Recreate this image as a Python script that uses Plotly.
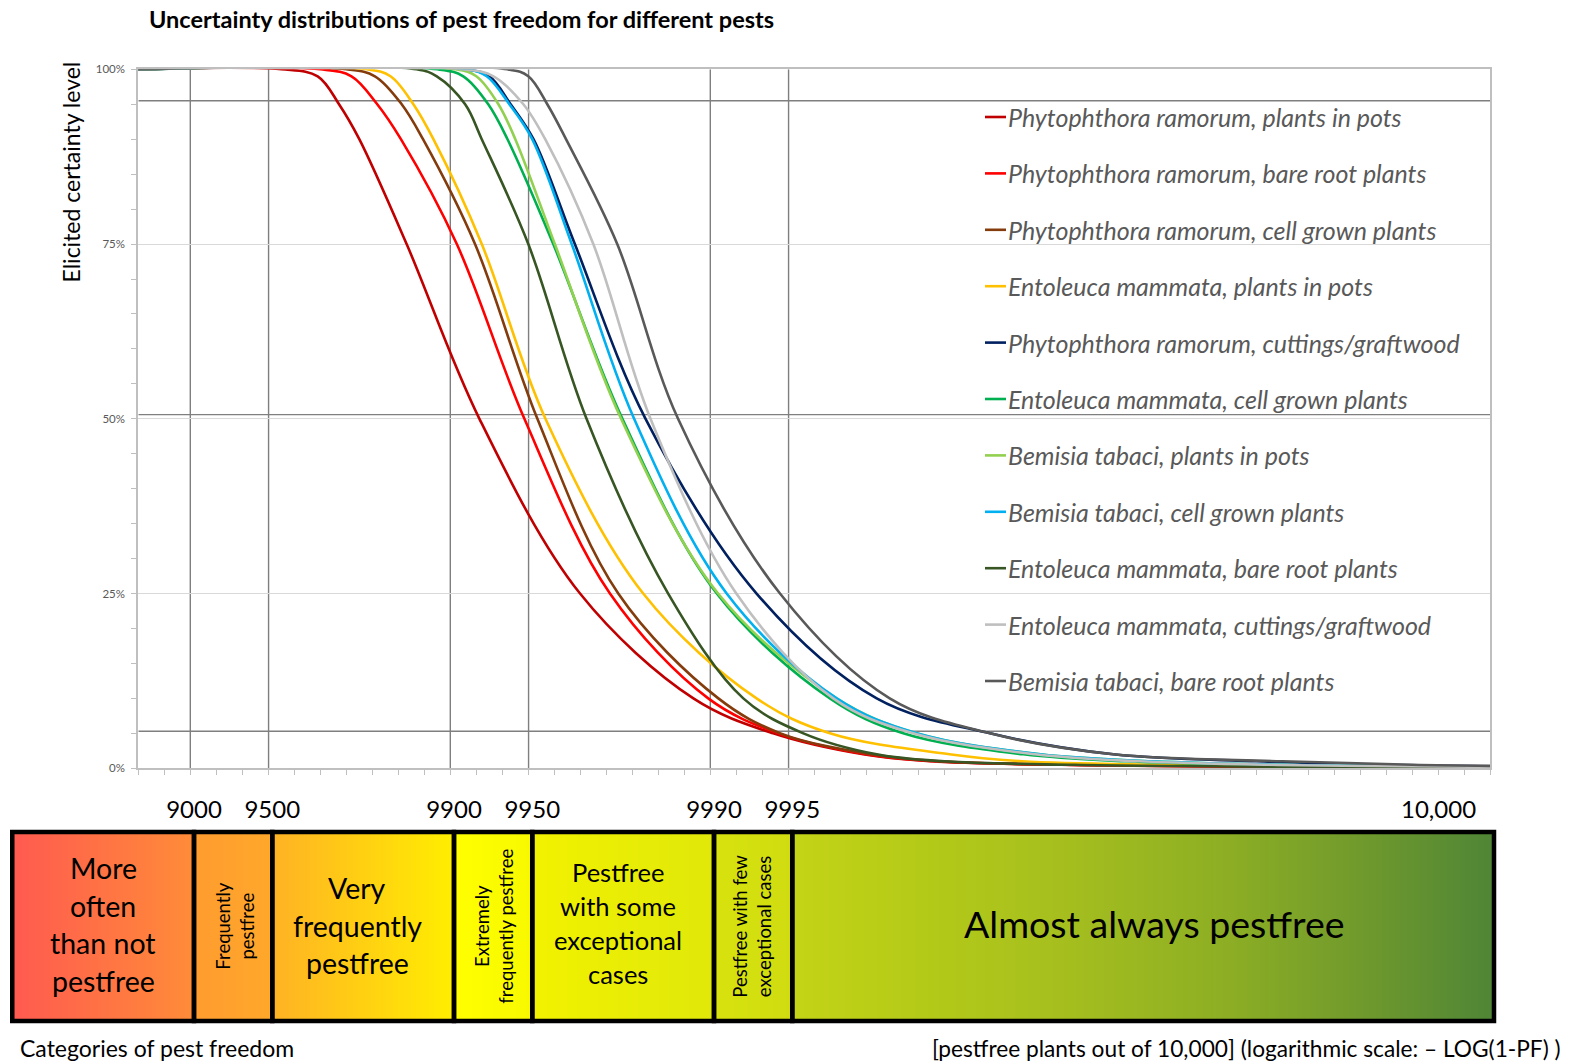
import numpy as np
import plotly.graph_objects as go

# ---------------- data ----------------
title_text = "Uncertainty distributions of pest freedom for different pests"

series_names = [
    "Phytophthora ramorum, plants in pots",
    "Phytophthora ramorum, bare root plants",
    "Phytophthora ramorum, cell grown plants",
    "Entoleuca mammata, plants in pots",
    "Phytophthora ramorum, cuttings/graftwood",
    "Entoleuca mammata, cell grown plants",
    "Bemisia tabaci, plants in pots",
    "Bemisia tabaci, cell grown plants",
    "Entoleuca mammata, bare root plants",
    "Entoleuca mammata, cuttings/graftwood",
    "Bemisia tabaci, bare root plants",
]
series_colors = ["#C00000", "#FF0000", "#843C0C", "#FFC000", "#002060", "#00B050",
                 "#92D050", "#00B0F0", "#375623", "#BFBFBF", "#595959"]

# certainty levels (y) at which each curve was read, last entry = value at right end
levels = [1.00, 1.00, 0.99, 0.95, 0.90, 0.75, 0.50, 0.25, 0.10, 0.05, 0.02, 0.01, 0.005]

# x positions (-LOG10(1-PF)) of each curve at those levels, plus right end of axis
phyto_pots   = [0.80, 1.35, 1.49, 1.572, 1.650, 1.832, 2.112, 2.499, 2.935, 3.242, 3.588, 3.845, 4.35, 6.0]
phyto_bare   = [0.80, 1.50, 1.62, 1.719, 1.810, 2.025, 2.285, 2.614, 2.992, 3.262, 3.600, 3.860, 4.37, 6.0]
phyto_cell   = [0.80, 1.60, 1.71, 1.813, 1.895, 2.095, 2.335, 2.646, 3.031, 3.270, 3.620, 3.880, 4.40, 6.0]
ento_pots    = [0.80, 1.68, 1.77, 1.858, 1.935, 2.121, 2.366, 2.742, 3.178, 3.460, 3.920, 4.200, 4.75, 6.0]
phyto_cut    = [0.80, 2.05, 2.15, 2.232, 2.320, 2.479, 2.751, 3.178, 3.640, 4.076, 4.550, 5.100, 5.60, 6.0]
ento_cell    = [0.80, 1.95, 2.05, 2.146, 2.220, 2.396, 2.662, 3.025, 3.460, 3.742, 4.204, 4.600, 5.10, 6.0]
bemisia_pots = [0.80, 2.02, 2.10, 2.185, 2.250, 2.402, 2.657, 3.030, 3.486, 3.794, 4.270, 4.700, 5.20, 6.0]
bemisia_cell = [0.80, 2.06, 2.14, 2.227, 2.315, 2.467, 2.707, 3.063, 3.486, 3.794, 4.270, 4.700, 5.20, 6.0]
ento_bare    = [0.80, 1.87, 1.948, 2.057, 2.121, 2.300, 2.524, 2.838, 3.127, 3.358, 3.640, 3.900, 4.40, 6.0]
ento_cut     = [0.80, 2.05, 2.166, 2.281, 2.365, 2.550, 2.770, 3.100, 3.473, 3.780, 4.250, 4.650, 5.15, 6.0]
bemisia_bare = [0.80, 2.22, 2.30, 2.373, 2.445, 2.642, 2.876, 3.268, 3.690, 4.076, 4.550, 5.200, 5.70, 6.0]
series_x = [phyto_pots, phyto_bare, phyto_cell, ento_pots, phyto_cut, ento_cell,
            bemisia_pots, bemisia_cell, ento_bare, ento_cut, bemisia_bare]
tail_values = [0.0005, 0.0005, 0.0005, 0.001, 0.003, 0.0015, 0.002, 0.002, 0.0005, 0.002, 0.0035]

# category boundaries in pestfree plants out of 10,000
cat_bounds = [5000, 9000, 9500, 9900, 9950, 9990, 9995, 10000]
cat_lines = [
    ["More", "often", "than not", "pestfree"],
    ["Frequently", "pestfree"],
    ["Very", "frequently", "pestfree"],
    ["Extremely", "frequently pestfree"],
    ["Pestfree", "with some", "exceptional", "cases"],
    ["Pestfree with few", "exceptional cases"],
    ["Almost always pestfree"],
]
cat_vertical = [False, True, False, True, False, True, False]
cat_fontsize = [28.5, 18.5, 28.5, 18.5, 25.5, 18.5, 37.5]
cat_linegap = [37.7, 0, 37.5, 0, 34, 0, 0]
cat_xshift = [0, 1, -6, 0, -5, -2, 11]
cat_yshift = [2, 0, 1, 0, 4, 0, 3]

# reference levels drawn as dark horizontal lines
ref_levels = [0.955, 0.506, 0.053]

# gradient colours along the category bar (position in plants out of 10,000)
grad_pos = [5000, 9000, 9000, 9500, 9500, 9900, 9900, 9950, 9950, 9990, 9990, 9995, 9995,
            9998.4, 9999.53, 9999.893, 9999.967, 10000]
grad_col = ["#FF5A50", "#FF8C38", "#FF9C30", "#FFA82A", "#FFB224", "#FFEE00", "#FFFF00", "#F8F800",
            "#F2F200", "#E0E80A", "#D8E20E", "#D0DC10", "#C4D416", "#B4CA18", "#A6BF1E",
            "#8DAE24", "#709A2C", "#4F8536"]

X_MIN, X_MAX = 0.8, 6.0
FONT = "Lato"
W, H = 1583, 1064


def to_log(v):
    frac = 1 - v / 10000.0
    return X_MAX if frac <= 0 else -np.log10(frac)


bounds_log = [to_log(v) for v in cat_bounds]

fig = go.Figure()

# ---------------- gradient band ----------------
lo, hi = bounds_log[0], bounds_log[-1]
edges = np.linspace(lo, hi, 901)
centers = (edges[:-1] + edges[1:]) / 2
cs = []
prev = -1
for p, c in zip(grad_pos, grad_col):
    t = (to_log(p) - lo) / (hi - lo)
    t = min(max(t, 0), 1)
    if t <= prev:
        t = prev + 1e-5
    prev = t
    cs.append([min(t, 1.0), c])
cs[-1][0] = 1.0
fig.add_trace(go.Heatmap(x=edges, y=[0, 1], z=[centers], colorscale=cs, zmin=lo, zmax=hi,
                         showscale=False, hoverinfo="skip", xaxis="x2", yaxis="y2"))

# ---------------- curves ----------------
for name, col, xs, tail in zip(series_names, series_colors, series_x, tail_values):
    ys = levels + [tail]
    fig.add_trace(go.Scatter(x=xs, y=ys, mode="lines", name=name,
                             line=dict(color=col, width=2.6, shape="spline", smoothing=1.0),
                             hoverinfo="name", xaxis="x", yaxis="y"))

shapes = []
for b in bounds_log[1:-1]:
    shapes.append(dict(type="line", xref="x", yref="y", x0=b, x1=b, y0=0, y1=1,
                       line=dict(color="#7F7F7F", width=1.4), layer="below"))
for lv in ref_levels:
    shapes.append(dict(type="line", xref="x", yref="y", x0=X_MIN, x1=X_MAX, y0=lv, y1=lv,
                       line=dict(color="#7F7F7F", width=1.4), layer="below"))
for a, b in zip(bounds_log[:-1], bounds_log[1:]):
    shapes.append(dict(type="rect", xref="x2", yref="y2", x0=a, x1=b, y0=0, y1=1,
                       line=dict(color="black", width=4.5), fillcolor="rgba(0,0,0,0)"))

annotations = []
annotations.append(dict(text="<b>" + title_text + "</b>", x=147 / W, y=1 - 19 / H,
                        xref="paper", yref="paper", xanchor="left", yanchor="middle",
                        showarrow=False, font=dict(family=FONT, size=23.5, color="black")))
annotations.append(dict(text="Elicited certainty level", x=70.5 / W, y=1 - 172 / H,
                        xref="paper", yref="paper", textangle=-90, showarrow=False,
                        xanchor="center", yanchor="middle",
                        font=dict(family=FONT, size=23, color="black")))
for i, (name, col) in enumerate(zip(series_names, series_colors)):
    yy = 1 - (117 + 56.4 * i) / H
    shapes.append(dict(type="line", xref="paper", yref="paper", x0=985 / W, x1=1006 / W,
                       y0=yy, y1=yy, line=dict(color=col, width=2.6)))
    annotations.append(dict(text="<i>" + name + "</i>", x=1006 / W, y=yy, xref="paper",
                            yref="paper", xanchor="left", yanchor="middle", showarrow=False,
                            font=dict(family=FONT, size=25, color="#595959")))
for (a, b), lines, vert, fs, gap, dx, dy in zip(zip(bounds_log[:-1], bounds_log[1:]), cat_lines,
                                                cat_vertical, cat_fontsize, cat_linegap,
                                                cat_xshift, cat_yshift):
    xm = (a + b) / 2
    if vert:
        annotations.append(dict(text="<br>".join(lines), x=xm, y=0.5, xref="x2", yref="y2",
                                textangle=-90, showarrow=False, xshift=dx,
                                font=dict(family=FONT, size=fs, color="black")))
    else:
        n = len(lines)
        for k, ln in enumerate(lines):
            annotations.append(dict(text=ln, x=xm, y=0.5, xref="x2", yref="y2", showarrow=False,
                                    xshift=dx, yshift=-(k - (n - 1) / 2) * gap + dy,
                                    font=dict(family=FONT, size=fs, color="black")))
annotations.append(dict(text="10,000", x=bounds_log[-1], y=1 - 808 / H, xref="x2",
                        yref="paper", xanchor="right", yanchor="middle", xshift=-16,
                        showarrow=False, font=dict(family=FONT, size=24, color="black")))
annotations.append(dict(text="Categories of pest freedom", x=18 / W, y=1 - 1048 / H,
                        xref="paper", yref="paper", xanchor="left", yanchor="middle",
                        showarrow=False, font=dict(family=FONT, size=23, color="black")))
annotations.append(dict(text="[pestfree plants out of 10,000] (logarithmic scale: \u2013 LOG(1-PF) )",
                        x=1563 / W, y=1 - 1048 / H, xref="paper", yref="paper",
                        xanchor="right", yanchor="middle", showarrow=False,
                        font=dict(family=FONT, size=22.7, color="black")))

tick_vals2 = bounds_log[1:-1]
tick_text2 = [str(v) for v in cat_bounds[1:-1]]

fig.update_layout(
    width=W, height=H,
    margin=dict(l=0, r=0, t=0, b=0, autoexpand=False),
    paper_bgcolor="white", plot_bgcolor="white",
    showlegend=False,
    shapes=shapes, annotations=annotations,
    xaxis=dict(domain=[138.3 / W, 1490.3 / W], range=[X_MIN, X_MAX], anchor="y",
               showticklabels=False, ticks="outside", tick0=X_MIN, dtick=0.1, ticklen=5,
               tickcolor="#BFBFBF", tickwidth=1.3, showline=True, linecolor="#BFBFBF",
               linewidth=2, mirror=True, showgrid=False, zeroline=False),
    yaxis=dict(domain=[1 - 768.3 / H, 1 - 69.3 / H], range=[0, 1], anchor="x",
               tickmode="linear", tick0=0, dtick=0.25, tickformat=".0%",
               ticks="outside", ticklen=5, tickcolor="#BFBFBF", tickwidth=1.3,
               minor=dict(dtick=0.05, ticks="outside", ticklen=5, tickcolor="#BFBFBF",
                          showgrid=False),
               showgrid=True, gridcolor="#D9D9D9", gridwidth=1.3,
               showline=True, linecolor="#BFBFBF", linewidth=2, mirror=True, zeroline=False,
               tickfont=dict(family=FONT, size=11.5, color="#595959"), ticklabelstandoff=4),
    xaxis2=dict(domain=[1.6 / W, 1507 / W], range=[0.26, 6.05], anchor="y2", side="top",
                tickmode="array", tickvals=tick_vals2, ticktext=tick_text2, ticks="",
                showline=False, showgrid=False, zeroline=False, ticklabelstandoff=3,
                tickfont=dict(family=FONT, size=24, color="black")),
    yaxis2=dict(domain=[1 - 1026.7 / H, 1 - 826.3 / H], range=[-0.03, 1.03], anchor="x2",
                visible=False),
)

post = ("document.documentElement.style.margin='0';document.documentElement.style.overflow='hidden';"
        "document.body.style.margin='0';document.body.style.padding='0';document.body.style.overflow='hidden';")
fig.write_html("out.html", post_script=post, config={"displayModeBar": False})
